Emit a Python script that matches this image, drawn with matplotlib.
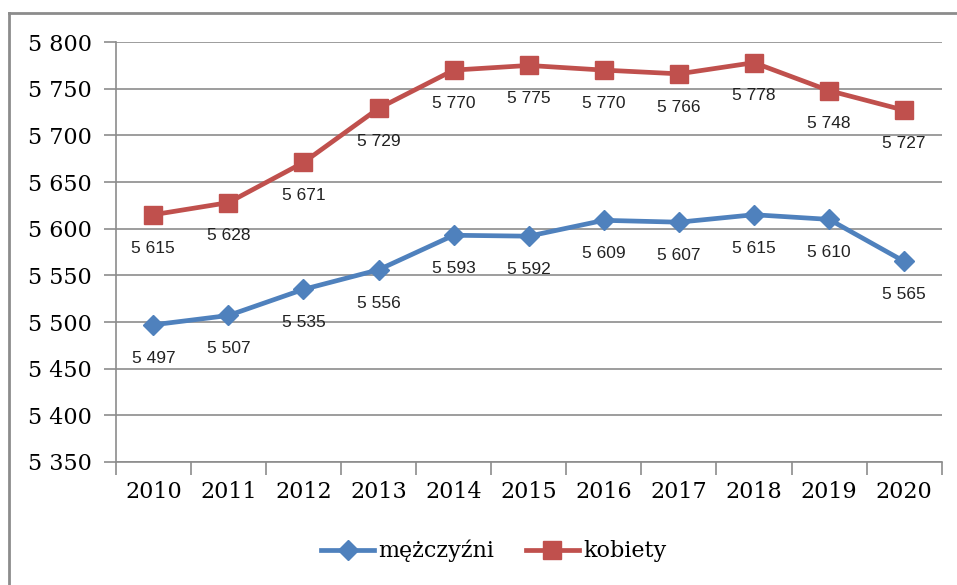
import matplotlib.pyplot as plt
from matplotlib.lines import Line2D

lata = ['2010', '2011', '2012', '2013', '2014', '2015', '2016', '2017', '2018', '2019', '2020']
mezczyzni = [5497, 5507, 5535, 5556, 5593, 5592, 5609, 5607, 5615, 5610, 5565]
kobiety = [5615, 5628, 5671, 5729, 5770, 5775, 5770, 5766, 5778, 5748, 5727]


def fmt(v):
    # separator tysięcy: spacja
    return f'{v:,}'.replace(',', ' ')


fig = plt.figure(figsize=(9.57, 5.85), dpi=100)
ax = fig.add_axes([0.121, 0.2103, 0.863, 0.7177])

x = list(range(len(lata)))
ax.plot(x, mezczyzni, color='#4F81BD', lw=3.4, marker='D', ms=10,
        mec='#4F81BD', label='mężczyźni', zorder=3)
ax.plot(x, kobiety, color='#C0504D', lw=3.4, marker='s', ms=13.5,
        mec='#C0504D', label='kobiety', zorder=3)

for xi, v in zip(x, mezczyzni):
    ax.annotate(fmt(v), (xi, v), xytext=(0, -24), textcoords='offset points',
                ha='center', va='center', fontsize=12.5, family='Liberation Sans',
                color='#222222')
for xi, v in zip(x, kobiety):
    ax.annotate(fmt(v), (xi, v), xytext=(0, -24), textcoords='offset points',
                ha='center', va='center', fontsize=12.5, family='Liberation Sans',
                color='#222222')

ax.set_xlim(-0.5, len(lata) - 0.5)
ax.set_ylim(5350, 5800)
yt = list(range(5350, 5801, 50))
ax.set_yticks(yt)
ax.set_yticklabels([fmt(v) for v in yt], family='DejaVu Serif', fontsize=16)
ax.yaxis.grid(True, color='#8C8C8C', lw=1.2)
ax.set_axisbelow(True)

# etykiety lat na środku kategorii, kreski na granicach
ax.set_xticks([i - 0.5 for i in range(len(lata) + 1)])
ax.set_xticklabels([])
ax.set_xticks(x, minor=True)
ax.set_xticklabels(lata, minor=True, family='DejaVu Serif', fontsize=16)
ax.tick_params(axis='x', which='major', length=9, color='#8C8C8C', width=1.2, direction='out')
ax.tick_params(axis='x', which='minor', length=0, pad=14)
ax.tick_params(axis='y', length=9, color='#8C8C8C', width=1.2, pad=8)

for s in ['top', 'right']:
    ax.spines[s].set_visible(False)
ax.spines['left'].set_color('#8C8C8C')
ax.spines['bottom'].set_color('#8C8C8C')
ax.spines['left'].set_linewidth(1.2)
ax.spines['bottom'].set_linewidth(1.2)

fig.legend(loc='center', bbox_to_anchor=(0.516, 0.058), ncol=2, frameon=False,
           prop={'family': 'DejaVu Serif', 'size': 16}, handlelength=2.4,
           handletextpad=0.2, columnspacing=1.4)

# ramka wykresu (lewa i górna krawędź)
fig.add_artist(Line2D([9 / 957, 9 / 957], [0, 1 - 13 / 585], color='#8C8C8C', lw=2))
fig.add_artist(Line2D([9 / 957, 1], [1 - 13 / 585, 1 - 13 / 585], color='#8C8C8C', lw=2))

fig.savefig('out.png', dpi=100)
